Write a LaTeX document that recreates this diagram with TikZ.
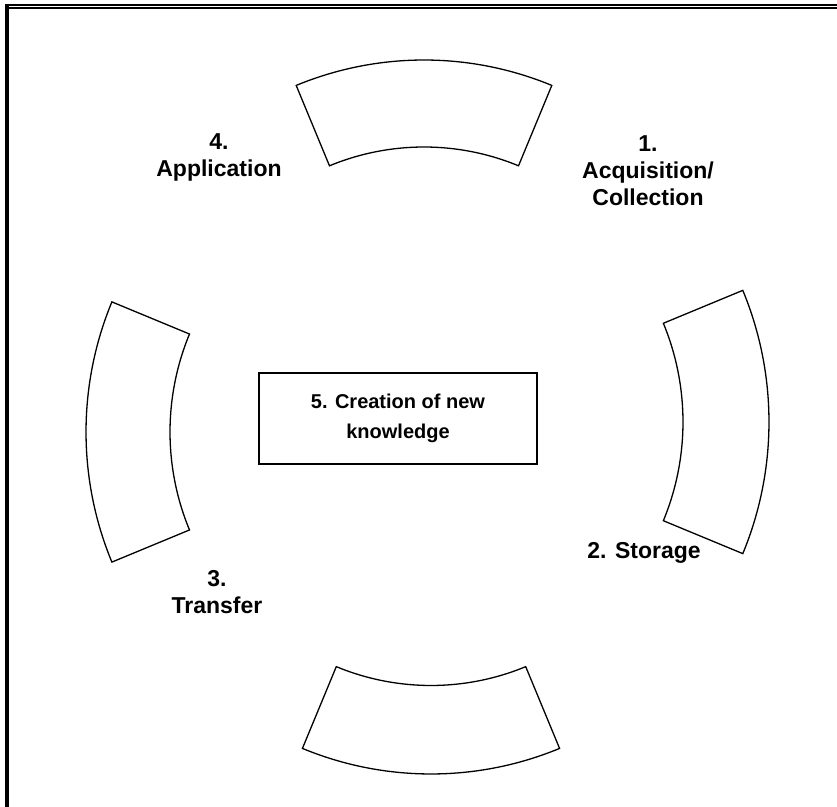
\documentclass[tikz,border=0pt]{standalone}
\usepackage{fontspec}
\setmainfont{Liberation Sans}

\begin{document}
\begin{tikzpicture}[
        x=0.5pt, y=-0.5pt,
        segm/.style={draw, line width=0.65pt, line join=miter},
        lbl/.style={align=center, font=\fontsize{11.5}{13.5}\selectfont\bfseries},
        box/.style={draw, line width=0.6pt, minimum width=139pt,
                    minimum height=45.5pt, inner sep=0pt, align=center,
                    font=\fontsize{10}{15}\selectfont\bfseries},
        frame/.style={line width=1pt},
    ]
    \useasboundingbox (0,0) rectangle (837,807);

    % --- Ramka ---
    \draw[frame] (5,5) -- (837,5);
    \draw[frame] (8.5,8) -- (837,8);
    \draw[line width=1.8pt] (6.8,4.5) -- (6.8,807);

    % --- Segmenty ---
    \begin{scope}[shift={(424,394)}]
        \draw[segm] (247.5:334) arc[start angle=247.5, end angle=292.5, radius=334]
            -- (292.5:247) arc[start angle=292.5, end angle=247.5, radius=247] -- cycle;
    \end{scope}
    \begin{scope}[shift={(425,422)}]
        \draw[segm] (-22.5:344) arc[start angle=-22.5, end angle=22.5, radius=344]
            -- (22.5:258) arc[start angle=22.5, end angle=-22.5, radius=258] -- cycle;
    \end{scope}
    \begin{scope}[shift={(431,438)}]
        \draw[segm] (67.5:336) arc[start angle=67.5, end angle=112.5, radius=336]
            -- (112.5:247.5) arc[start angle=112.5, end angle=67.5, radius=247.5] -- cycle;
    \end{scope}
    \begin{scope}[shift={(426,432)}]
        \draw[segm] (157.5:340) arc[start angle=157.5, end angle=202.5, radius=340]
            -- (202.5:256) arc[start angle=202.5, end angle=157.5, radius=256] -- cycle;
    \end{scope}

    % --- Etykiety ---
    \node[lbl] (acq) at (648,171) {1.\\Acquisition/\\Collection};
    \node[lbl] (stor) at (644,553) {2. Storage};
    \node[lbl] (trans) at (217,592) {3.\\Transfer};
    \node[lbl] (appl) at (219,157) {4.\\Application};
    \node[box] (create) at (398,418.5) {5. Creation of new\\knowledge};
\end{tikzpicture}
\end{document}
